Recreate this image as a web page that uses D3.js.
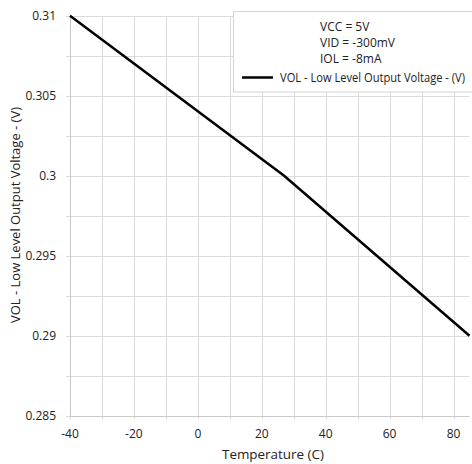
<!DOCTYPE html>
<html>
<head>
<meta charset="utf-8">
<script src="https://cdn.jsdelivr.net/npm/d3@7"></script>
<style>
  body { margin: 0; background: #fff; }
  text { font-family: "Open Sans", "Noto Sans", sans-serif; fill: #222; }
</style>
</head>
<body>
<svg id="canvas" width="472" height="464"></svg>
<script>
// Data
let temps = [-40, 27, 85];
let vol = [0.31, 0.3, 0.29];
let xTicks = [-40, -20, 0, 20, 40, 60, 80];
let yTicks = [0.285, 0.29, 0.295, 0.3, 0.305, 0.31];
let conditions = ['VCC = 5V', 'VID = -300mV', 'IOL = -8mA'];
let seriesName = 'VOL - Low Level Output Voltage - (V)';

let svg = d3.select('#canvas');
let plotLeft = 70, plotRight = 469.5, plotTop = 15.7, plotBottom = 415.7;

let x = d3.scaleLinear().domain([-40, 85]).range([plotLeft, plotRight]);
let y = d3.scaleLinear().domain([0.285, 0.31]).range([plotBottom, plotTop]);

// Grid
let xGrid = d3.range(-40, 86, 10);
let yGrid = d3.range(0, 11).map((i) => 0.285 + i * 0.0025);

svg.append('g').selectAll('line')
    .data(xGrid)
    .enter()
    .append('line')
    .attr('x1', (d) => Math.round(x(d)) + 0.5)
    .attr('x2', (d) => Math.round(x(d)) + 0.5)
    .attr('y1', plotTop)
    .attr('y2', plotBottom + 4)
    .attr('stroke', '#dcdcdc');

svg.append('g').selectAll('line')
    .data(yGrid)
    .enter()
    .append('line')
    .attr('x1', plotLeft - 4)
    .attr('x2', plotRight)
    .attr('y1', (d) => Math.round(y(d)) + 0.5)
    .attr('y2', (d) => Math.round(y(d)) + 0.5)
    .attr('stroke', '#dcdcdc');

// Axes lines
svg.append('line')
    .attr('x1', Math.round(plotLeft) + 0.5).attr('x2', Math.round(plotLeft) + 0.5)
    .attr('y1', plotTop).attr('y2', plotBottom)
    .attr('stroke', '#c8c8c8');
svg.append('line')
    .attr('x1', plotLeft).attr('x2', plotRight)
    .attr('y1', Math.round(plotBottom) + 0.5).attr('y2', Math.round(plotBottom) + 0.5)
    .attr('stroke', '#c8c8c8');

// Tick labels
svg.append('g').selectAll('text')
    .data(xTicks)
    .enter()
    .append('text')
    .attr('x', (d) => x(d))
    .attr('y', plotBottom + 22)
    .attr('text-anchor', 'middle')
    .attr('font-size', 12)
    .text((d) => d);

svg.append('g').selectAll('text')
    .data(yTicks)
    .enter()
    .append('text')
    .attr('x', plotLeft - 14)
    .attr('y', (d) => y(d) + 4.5)
    .attr('text-anchor', 'end')
    .attr('font-size', 12)
    .text((d) => +d.toFixed(3));

// Axis titles
svg.append('text')
    .attr('x', 222)
    .attr('y', 459)
    .attr('font-size', 13)
    .attr('textLength', 102)
    .attr('lengthAdjust', 'spacingAndGlyphs')
    .text('Temperature (C)');

svg.append('text')
    .attr('transform', 'translate(20,215) rotate(-90)')
    .attr('x', -108)
    .attr('font-size', 13)
    .attr('textLength', 216)
    .attr('lengthAdjust', 'spacingAndGlyphs')
    .text(seriesName);

// Series line
let points = temps.map((t, i) => [t, vol[i]]);
svg.append('path')
    .datum(points)
    .attr('d', d3.line().x((d) => x(d[0])).y((d) => y(d[1])))
    .attr('fill', 'none')
    .attr('stroke', '#000')
    .attr('stroke-width', 2.5);

// Legend
let lg = svg.append('g');
lg.append('rect')
    .attr('x', 233.5).attr('y', 11.5)
    .attr('width', 245).attr('height', 80.5)
    .attr('fill', '#fff')
    .attr('stroke', '#d4d4d4');

lg.selectAll('text.cond')
    .data(conditions)
    .enter()
    .append('text')
    .attr('class', 'cond')
    .attr('x', 320)
    .attr('y', (d, i) => 31 + i * 16)
    .attr('font-size', 12)
    .text((d) => d);

lg.append('line')
    .attr('x1', 242).attr('x2', 273)
    .attr('y1', 77.5).attr('y2', 77.5)
    .attr('stroke', '#000')
    .attr('stroke-width', 2.5);

lg.append('text')
    .attr('x', 280)
    .attr('y', 82)
    .attr('font-size', 12)
    .attr('textLength', 185)
    .attr('lengthAdjust', 'spacingAndGlyphs')
    .text(seriesName);
</script>
</body>
</html>
